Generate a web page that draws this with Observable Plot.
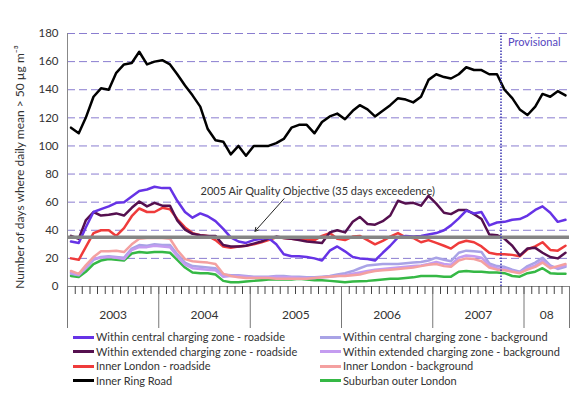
<!DOCTYPE html>
<html><head><meta charset="utf-8">
<script src="https://cdn.jsdelivr.net/npm/d3@7"></script>
<script src="https://cdn.jsdelivr.net/npm/@observablehq/plot@0.6"></script>
<style>
body{margin:0;background:#fff;font-family:Lato,"Open Sans",sans-serif;}
#chart{position:relative;width:585px;height:405px;overflow:hidden;}
.lg{position:absolute;height:14px;line-height:14px;font-size:11px;color:#333;white-space:nowrap;display:flex;align-items:center;}
.lg span.sw{display:inline-block;width:21px;height:3px;margin-right:2px;}
</style></head><body><div id="chart"></div><script>
// ---- data ----
const seriesNames = [
  "Within central charging zone - roadside",
  "Within extended charging zone - roadside",
  "Inner London - roadside",
  "Inner Ring Road",
  "Within central charging zone - background",
  "Within extended charging zone - background",
  "Inner London - background",
  "Suburban outer London"
];
const seriesColors = ["#6633e6","#55104f","#ef3b3b","#000000","#a9a3e6","#c49cf0","#f4a0a0","#35b845"];
const drawOrder = [7,4,5,6,2,1,0,3];
const centralRoadside = [32,31,42,53,55,57,59.5,60,64,68,69,71,70,70,61,53,49,52,50,46.5,41,35,
  32,31,33,34,34.5,30,23,21.5,21.5,21,20,18.5,25.5,28.5,25,21,20,19.5,18.5,24,29,35,
  36,35.5,36,37,38,40,43.5,48.5,54,52,53,43.5,45.5,46,47.5,48,50.5,54.5,57,52.5,46,47.5];
const extendedRoadside = [36,34,47,53,50.5,51,52,50.5,56,60.5,57,59.5,57.5,57.5,47,40.5,37.5,36.5,36,36,29.5,28.5,
  28.5,29,30.5,32,34,35.5,34.5,34,33,32,31.5,31,38.5,40,38.5,46,49.5,44.5,44,46.5,50.5,61,
  59,59.5,57.5,64.5,59,52.5,51.5,54.5,54.5,51.5,48,37,36.5,34,29,22,27,27.5,24,21,20,24];
const innerRoadside = [20,19,28,38,40,40,36,41.5,50,55.5,53,53,56,55,48,42,38,36.5,36,33,28.5,27.5,
  28.5,29,30,31.5,33,35,34.5,34,33.5,33,33,36,38,34,33,35.5,36,33,30,32.5,35.5,38,
  35,34.5,31.5,33,31,29,27,31,32.5,31.5,28.5,24,23,23,22.5,21.5,26.5,28.5,31.5,26,25.5,29];
const innerRingRoad = [113,109,120,135,141,140,152,158,159,167,158,160,161,158,151,143,136,128,112,104,103,94,
  100,93,100,100,100,102,105,113,115,115,109,117,121,123,119,125,129,126,121,125,129,134,
  133,131,135,147,151,149,148,151,156,154,154,151,151,140,134,126,122,128,137,135,139,136];
const centralBackground = [9,8,13,19,21,21.5,21,20.5,27,29.5,29,30,29.5,29.5,23,17,14.5,14,13.5,13,8.5,8,
  8,7.5,7,7,7,7.5,7.5,7,7,6.5,6.5,7,7.5,8.5,9.5,11,13,15,15.5,16,16,16,
  16.5,17,17.5,18.5,20.5,19,18,24,25.5,25,24.5,16.5,14.5,14,12,10.5,14.5,17,20.5,15,12.5,14];
const extendedBackground = [10,8.5,13.5,20,20.5,21,20.5,19.5,26,28,28,29,28.5,28,21.5,15.5,13,12.5,12,11.5,7,7.5,
  7.5,7,6.5,6.5,6.5,7,6.5,6.5,6,6,6,6.5,7,7.5,8,9,10,11,12,12.5,13,13.5,
  14,14.5,15,16,17.5,16,15.5,20.5,22,21.5,20.5,15,13,12.5,11,10,13,15,18.5,14,13.5,15];
const innerBackground = [11,9,15,21,25,25,25.5,24.5,30,34,34.5,34.5,34.5,34,26,19.5,18,17.5,17,16,9,7.5,
  6.5,6,6,6,6,5.5,5.5,5.5,5.5,5.5,6,6.5,7,7.5,7.5,8,8.5,10,11,11.5,12,12.5,
  13,13.5,14.5,15.5,16,14.5,14,18.5,20,19.5,18,13.5,12,11.5,10.5,9.5,12,14,17,13,14.5,16];
const suburbanOuter = [7.5,6.8,10.5,16,18.5,19.5,19,18.5,23.5,24.5,24,24.5,24.5,24,19,13.5,10,9.5,9.5,8.5,4,3,
  3,3.5,4,4.5,5,5,5,5,5.5,5,4.5,4.5,4,3.5,3,3.5,3.8,4,4.5,5,5.5,5.5,
  6,6.5,7.5,7.5,7.5,7,7,10.5,11,10.5,10.5,10,10,9.5,7.5,7,9.5,10.5,13,9.5,9,9];
const seriesValues = [centralRoadside, extendedRoadside, innerRoadside, innerRingRoad,
  centralBackground, extendedBackground, innerBackground, suburbanOuter];
const yearLabels = ["2003","2004","2005","2006","2007","08"];
const yTicks = [0,20,40,60,80,100,120,140,160,180];
const objectiveValue = 35;
const objectiveText = "2005 Air Quality Objective (35 days exceedence)";
const provisionalText = "Provisional";
const yLabel = "Number of days where daily mean > 50 µg m⁻³";

// ---- time helpers ----
const start = new Date(Date.UTC(2003,0,1));
const end = new Date(Date.UTC(2008,6,1));
const months = d3.utcMonth.range(start, end);
const pointDates = months.map(m => d3.utcDay.offset(m, 14));
const yearStarts = d3.utcYear.range(start, end).concat([end]);
const yearMids = yearStarts.slice(0,-1).map((d,i) => new Date((+d + +yearStarts[i+1])/2));
const provisionalDate = new Date(Date.UTC(2007,9,1));

const data = drawOrder.flatMap(si => seriesValues[si].map((v,i) => ({series: seriesNames[si], date: pointDates[i], value: v})));

const noteTextPos = [{date: new Date(Date.UTC(2005,8,28)), value: 67.3, text: objectiveText}];
const noteArrow = [{x1: new Date(Date.UTC(2005,4,16)), y1: 62.4, x2: new Date(Date.UTC(2005,0,20)), y2: 39.3}];
const provLabel = [{date: provisionalDate, value: 173.5, text: provisionalText}];

const plot = Plot.plot({
  width: 585, height: 332,
  marginTop: 33, marginBottom: 46, marginLeft: 67, marginRight: 16,
  style: {fontFamily: "Lato, 'Open Sans', sans-serif", fontSize: "11px", color: "#333", background: "white", overflow: "visible"},
  x: {type: "utc", domain: [start, end]},
  y: {domain: [0, 180]},
  color: {domain: seriesNames, range: seriesColors},
  marks: [
    Plot.ruleY(yTicks.slice(1), {stroke: "#8a7dd0", strokeWidth: 1, strokeDasharray: "8,4"}),
    Plot.line(data, {x: "date", y: "value", z: "series", stroke: "series", strokeWidth: 2.5, strokeLinejoin: "round"}),
    Plot.ruleY([objectiveValue], {stroke: "#858585", strokeWidth: 3.5}),
    Plot.ruleX([provisionalDate], {y1: 0, y2: 180, stroke: "#3a34b0", strokeWidth: 1.5, strokeDasharray: "1.5,1.5"}),
    Plot.ruleX([start], {y1: 0, y2: 180, stroke: "#888", strokeWidth: 1}),
    Plot.ruleY([0], {stroke: "#888", strokeWidth: 1}),
    Plot.axisY({ticks: yTicks, tickSize: 0, tickPadding: 9, fontSize: 11.5, label: null, fill: "#333"}),
    Plot.axisX({ticks: months, tickSize: 8, tickFormat: () => "", stroke: "#444", label: null}),
    Plot.axisX({ticks: yearStarts, tickSize: 42, tickFormat: () => "", stroke: "#777", label: null}),
    Plot.axisX({ticks: yearMids, tickSize: 0, tickPadding: 24, tickFormat: (d,i) => yearLabels[i], fontSize: 12, fill: "#333", label: null}),
    Plot.arrow(noteArrow, {x1: "x1", y1: "y1", x2: "x2", y2: "y2", stroke: "#222", strokeWidth: 1, headLength: 6}),
    Plot.text(noteTextPos, {x: "date", y: "value", text: "text", fontSize: 11, fill: "#333"}),
    Plot.text(provLabel, {x: "date", y: "value", text: "text", textAnchor: "start", dx: 7, fontSize: 11, fill: "#5546c0"}),
    Plot.text([yLabel], {frameAnchor: "left", textAnchor: "middle", rotate: -90, dx: -47, dy: 7, fontSize: 12, fill: "#333"})
  ]
});
const chart = document.getElementById("chart");
chart.appendChild(plot);

// ---- legend ----
const rowsTop = [330, 344.5, 359, 373.5];
const colLeft = [73, 320];
seriesNames.forEach((name, i) => {
  const col = Math.floor(i / 4), row = i % 4;
  const div = document.createElement("div");
  div.className = "lg";
  div.style.left = colLeft[col] + "px";
  div.style.top = rowsTop[row] + "px";
  const sw = document.createElement("span");
  sw.className = "sw";
  sw.style.background = seriesColors[i];
  div.appendChild(sw);
  div.appendChild(document.createTextNode(name));
  chart.appendChild(div);
});
</script></body></html>
